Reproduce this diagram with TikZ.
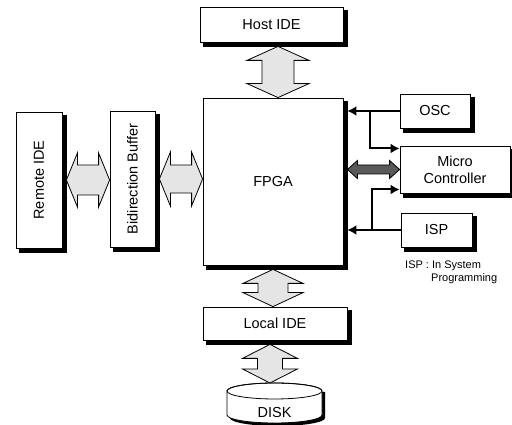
\documentclass[tikz,border=0pt]{standalone}
\usepackage{fontspec}
\setmainfont{Liberation Sans}
\usetikzlibrary{calc,arrows.meta}

% hollow block arrow, vertical: top tip, bottom tip, head half width, shaft half width, head length
\newcommand{\vblockarrow}[6][blockarrow]{%
	\draw[#1] let \p1=(#2), \p2=(#3) in
		(\x1,\y1) -- (\x1-#4pt,\y1-#6pt) -- (\x1-#5pt,\y1-#6pt) -- (\x1-#5pt,\y2+#6pt)
		-- (\x1-#4pt,\y2+#6pt) -- (\x1,\y2) -- (\x1+#4pt,\y2+#6pt) -- (\x1+#5pt,\y2+#6pt)
		-- (\x1+#5pt,\y1-#6pt) -- (\x1+#4pt,\y1-#6pt) -- cycle;}
% same, horizontal: left tip, right tip, ...
\newcommand{\hblockarrow}[6][blockarrow]{%
	\draw[#1] let \p1=(#2), \p2=(#3) in
		(\x1,\y1) -- (\x1+#6pt,\y1+#4pt) -- (\x1+#6pt,\y1+#5pt) -- (\x2-#6pt,\y1+#5pt)
		-- (\x2-#6pt,\y1+#4pt) -- (\x2,\y1) -- (\x2-#6pt,\y1-#4pt) -- (\x2-#6pt,\y1-#5pt)
		-- (\x1+#6pt,\y1-#5pt) -- (\x1+#6pt,\y1-#4pt) -- cycle;}

\begin{document}
\begin{tikzpicture}[x=1pt,y=1pt,
		box/.style={draw, line width=0.8pt, fill=white, inner sep=0pt, align=center,
			font=\fontsize{14.5}{17}\selectfont},
		shadowline/.style={line width=4pt, line cap=butt, line join=miter},
		blockarrow/.style={draw, line width=0.8pt, fill=black!10, line join=miter},
		busarrow/.style={draw, line width=0.8pt, fill=black!65},
		sigarrow/.style={line width=2pt, -{Latex[length=9pt,width=10pt]}},
		note/.style={font=\fontsize{11}{13}\selectfont, align=left, inner sep=0pt}]
		\useasboundingbox (0,0) rectangle (512,425);
		% Blocks
		\node[box, minimum width=143, minimum height=35] (host) at (271.5,400.5) {Host IDE};
		\node[box, minimum width=140, minimum height=167] (fpga) at (273,243.5) {FPGA};
		\node[box, minimum width=144, minimum height=33] (local) at (275,101.5) {Local IDE};
		\node[box, minimum width=46, minimum height=136] (remote) at (39,245) {\rotatebox{90}{Remote IDE}};
		\node[box, minimum width=45, minimum height=136] (buffer) at (132.5,246) {\rotatebox{90}{Bidirection Buffer}};
		\node[box, minimum width=70, minimum height=34] (osc) at (435,314) {OSC};
		\node[box, minimum width=110, minimum height=47] (micro) at (455,255.5) {Micro\\Controller};
		\node[box, minimum width=71, minimum height=34] (isp) at (436.5,195) {ISP};
		% Shadows, right and bottom edge
		\draw[shadowline] ([xshift=2.4pt,yshift=-3pt]host.north east) -- ([xshift=2.4pt,yshift=-2.4pt]host.south east) -- ([xshift=3pt,yshift=-2.4pt]host.south west);
		\draw[shadowline] ([xshift=2.4pt,yshift=-3pt]fpga.north east) -- ([xshift=2.4pt,yshift=-2.4pt]fpga.south east) -- ([xshift=3pt,yshift=-2.4pt]fpga.south west);
		\draw[shadowline] ([xshift=2.4pt,yshift=-3pt]local.north east) -- ([xshift=2.4pt,yshift=-2.4pt]local.south east) -- ([xshift=3pt,yshift=-2.4pt]local.south west);
		\draw[shadowline] ([xshift=2.4pt,yshift=-3pt]remote.north east) -- ([xshift=2.4pt,yshift=-2.4pt]remote.south east) -- ([xshift=3pt,yshift=-2.4pt]remote.south west);
		\draw[shadowline] ([xshift=2.4pt,yshift=-3pt]buffer.north east) -- ([xshift=2.4pt,yshift=-2.4pt]buffer.south east) -- ([xshift=3pt,yshift=-2.4pt]buffer.south west);
		\draw[shadowline] ([xshift=2.4pt,yshift=-3pt]osc.north east) -- ([xshift=2.4pt,yshift=-2.4pt]osc.south east) -- ([xshift=3pt,yshift=-2.4pt]osc.south west);
		\draw[shadowline] ([xshift=2.4pt,yshift=-3pt]micro.north east) -- ([xshift=2.4pt,yshift=-2.4pt]micro.south east) -- ([xshift=3pt,yshift=-2.4pt]micro.south west);
		\draw[shadowline] ([xshift=2.4pt,yshift=-3pt]isp.north east) -- ([xshift=2.4pt,yshift=-2.4pt]isp.south east) -- ([xshift=3pt,yshift=-2.4pt]isp.south west);
		% Disk
		\fill[black] (230,33) -- (230,7) arc[start angle=180, end angle=360, x radius=47.5, y radius=8] -- (325,33) -- cycle;
		\draw[line width=0.8pt, fill=white]
			(227,34) -- (227,10) arc[start angle=180, end angle=360, x radius=47.5, y radius=8] -- (322,34)
			arc[start angle=0, end angle=180, x radius=47.5, y radius=8] -- cycle;
		\draw[line width=0.8pt] (274.5,34) ellipse[x radius=47.5, y radius=8];
		\node[font=\fontsize{14.5}{17}\selectfont] (disk) at (274.5,12) {DISK};
		\coordinate (disktop) at (274.5,42);
		% Block arrows
		\vblockarrow{[xshift=6.5pt,yshift=-4pt]host.south}{fpga.north}{31}{16}{14}
		\vblockarrow{[yshift=-4pt]fpga.south}{local.north}{30}{15}{14}
		\vblockarrow{[xshift=-5pt,yshift=-4pt]local.south}{disktop}{27.5}{12.5}{14}
		\hblockarrow{[xshift=4pt]remote.east}{buffer.west}{27}{15}{11}
		\hblockarrow{[xshift=4pt]buffer.east}{fpga.west}{27}{14}{11}
		% Control lines
		\coordinate (fpgar) at ([xshift=4pt]fpga.east);
		\hblockarrow[busarrow]{fpgar |- micro.west}{micro.west}{9}{4.5}{10}
		\draw[sigarrow] (osc.west) -- (fpgar |- osc.west);
		\draw[sigarrow] (isp.west) -- (fpgar |- isp.west);
		\coordinate (oscj) at (370,314);
		\coordinate (ispj) at (372,195);
		\draw[sigarrow] (oscj) |- ([yshift=21pt]micro.west);
		\draw[sigarrow] (ispj) |- ([yshift=-20pt]micro.west);
		% Note
		\node[note, anchor=north west] (ispnote) at (405,164) {ISP : In System\\\hspace*{26pt}Programming};
	\end{tikzpicture}
\end{document}
